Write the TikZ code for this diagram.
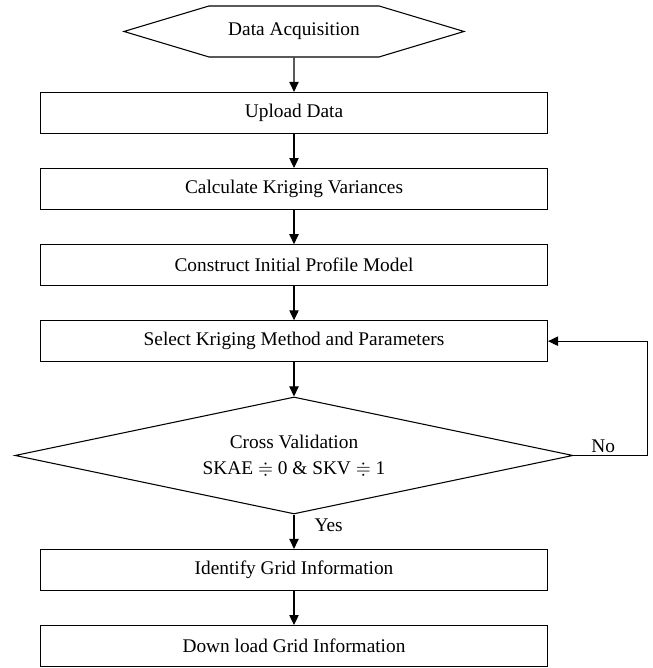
\documentclass[tikz,border=0pt]{standalone}
\usepackage{amssymb}
\usepackage{fontspec}
\setmainfont{Liberation Serif}
\usetikzlibrary{arrows.meta,positioning,shapes.geometric,shapes.symbols}
\tikzset{
  fc/start/.style={draw, signal, signal to=west and east, signal pointer angle=33.4, minimum width=255pt, minimum height=38.25pt, inner sep=1pt, line width=0.8pt},
  fc/process/.style={draw, rectangle, minimum width=380.25pt, minimum height=30.5pt, inner sep=2pt, line width=0.8pt},
  fc/decision/.style={draw, diamond, aspect=4.77, minimum width=418.5pt, minimum height=87.75pt, inner sep=1pt, align=center, line width=0.8pt},
  fc/line/.style={line width=0.8pt, -{Triangle[width=7pt,length=7.5pt]}},
  fc/label/.style={inner sep=2pt}
}

\begin{document}
\begin{tikzpicture}[node distance=25.8pt, font=\fontsize{14.5}{20}\selectfont]
  \useasboundingbox (0,0) rectangle (489.75pt,-501pt);
  \node[fc/start] (acq) at (220.5pt,-23.6pt) {Data Acquisition};
  \node[fc/process, below=of acq] (upload) {Upload Data};
  \node[fc/process, below=of upload] (variance) {Calculate Kriging Variances};
  \node[fc/process, below=of variance] (initial) {Construct Initial Profile Model};
  \node[fc/process, below=of initial] (select) {Select Kriging Method and Parameters};
  \node[fc/decision, below=of select] (cv) {Cross Validation\\SKAE $\doteqdot$ 0 \& SKV $\doteqdot$ 1};
  \node[fc/process, below=of cv] (grid) {Identify Grid Information};
  \node[fc/process, below=of grid] (download) {Down load Grid Information};

  \draw[fc/line] (acq) -- (upload);
  \draw[fc/line] (upload) -- (variance);
  \draw[fc/line] (variance) -- (initial);
  \draw[fc/line] (initial) -- (select);
  \draw[fc/line] (select) -- (cv);
  \draw[fc/line] (cv) -- node[fc/label, anchor=west, xshift=13pt, pos=0.3] {Yes} (grid);
  \draw[fc/line] (grid) -- (download);

  % loop back when validation fails
  \coordinate[right=55.5pt of cv.east] (back);
  \draw[fc/line] (cv.east) -- node[fc/label, above, pos=0.4] {No} (back) |- (select.east);
\end{tikzpicture}
\end{document}
